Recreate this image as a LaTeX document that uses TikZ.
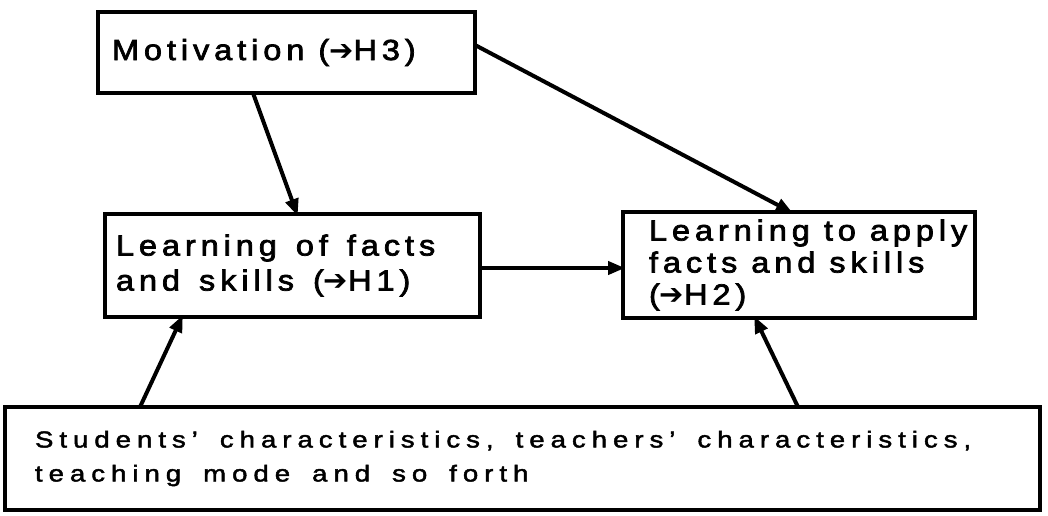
\documentclass[tikz,border=0pt]{standalone}
\usepackage{fontspec}
\usetikzlibrary{arrows.meta}
\newfontfamily\boxfont[FakeStretch=1.12,LetterSpace=17,FakeBold=2.5]{Liberation Sans}
\newfontfamily\basefont[FakeStretch=1.2,LetterSpace=26,FakeBold=2]{Liberation Sans}
\newfontfamily\arrfont{DejaVu Sans}
\newcommand\rarr{\raisebox{0pt}{\arrfont\fontsize{29}{29}\selectfont ➔}}
\newcommand\topfontA{\boxfont\fontsize{29}{35}\selectfont}
\newcommand\topfontB{\boxfont\fontsize{29}{32}\selectfont}
\newcommand\basefontA{\basefont\fontsize{23}{34}\selectfont}
\hyphenpenalty=10000
\exhyphenpenalty=10000
\tikzset{
  box/.style={draw=black, line width=4pt, outer sep=0pt, anchor=north west, align=left, inner ysep=0pt},
  wide/.style={execute at begin node={\spaceskip=#1 plus 2pt minus 1pt\relax}},
  arr/.style={line width=4pt, -{Triangle[length=17pt,width=13pt]}, shorten >=-2pt}
}
\begin{document}
\begin{tikzpicture}[x=1pt,y=-1pt]
\useasboundingbox (0,0) rectangle (1048,515);
\node[box, font=\topfontA, wide=14pt, minimum width=377pt, minimum height=81pt, inner xsep=14pt, text width=349pt] (mot) at (98,12) {Motivation (\rarr H3)};
\node[box, font=\topfontA, wide=19pt, minimum width=375pt, minimum height=103pt, inner xsep=11pt, text width=353pt] (facts) at (105,214) {Learning of facts\\and skills (\rarr H1)};
\node[box, font=\topfontB, wide=14pt, minimum width=352pt, minimum height=106pt, inner xsep=26pt, text width=300pt] (apply) at (623,212) {\mbox{Learning to apply}\\\mbox{facts and skills}\\(\rarr H2)};
\node[box, font=\basefontA, wide=22pt, minimum width=1035pt, minimum height=103pt, inner xsep=30pt, text width=975pt] (base) at (5,407) {\mbox{Students’ characteristics, teachers’ characteristics,}\\teaching mode and so forth};
\draw[arr] ([xshift=155pt]mot.south west) -- ([xshift=192pt]facts.north west);
\draw[arr] ([yshift=-33pt]mot.north east) -- ([xshift=168pt]apply.north west);
\draw[arr] (facts.east |- 0,268) -- (apply.west |- 0,268);
\draw[arr] ([xshift=135pt]base.north west) -- ([xshift=77pt]facts.south west);
\draw[arr] ([xshift=793pt]base.north west) -- ([xshift=132pt]apply.south west);
\end{tikzpicture}
\end{document}
